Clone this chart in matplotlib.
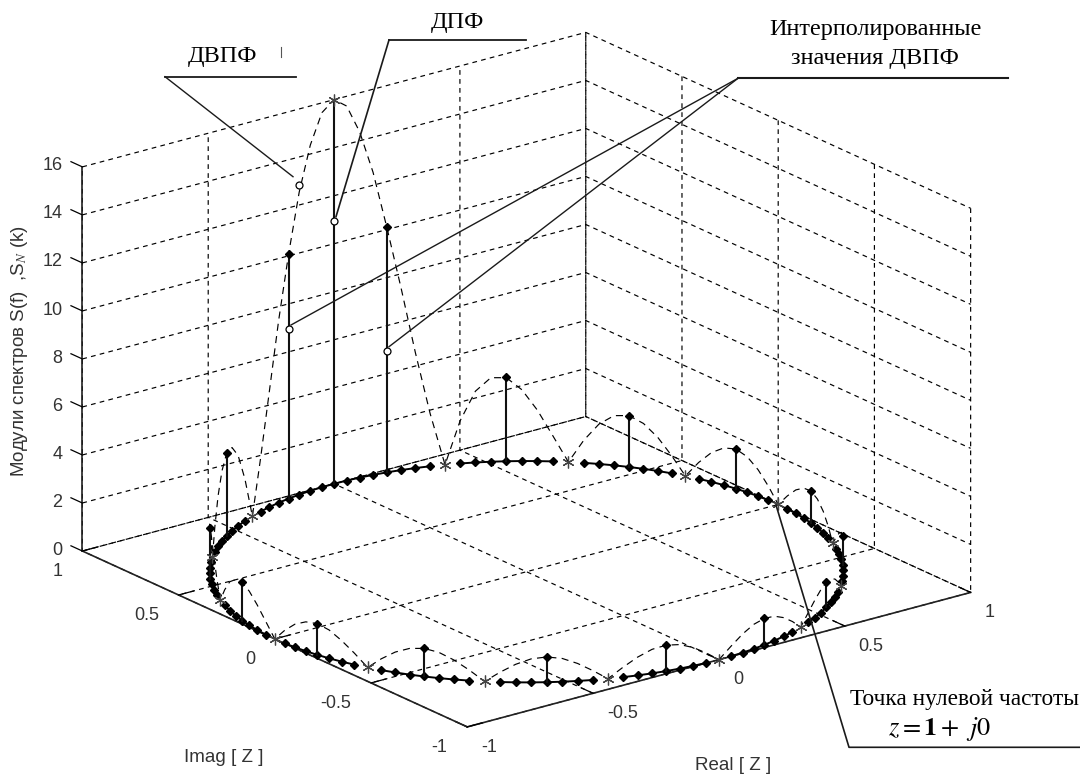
import numpy as np
import matplotlib
matplotlib.use("Agg")
import matplotlib.pyplot as plt
from mpl_toolkits.mplot3d import proj3d

# ---------- data ----------
peak_angle_deg = 90.0
sample_step_deg = 2.8125
# DTFT magnitude, walking from the peak in the direction of growing angle
dtft_ccw = [16, 15.6, 14.4, 12.6, 10.2, 7.6, 4.8, 2.2, 0,
            1.75, 2.93, 3.47, 3.45, 2.93, 2.1, 1.05, 0,
            .93, 1.65, 2.05, 2.13, 1.88, 1.4, .72, 0,
            .65, 1.2, 1.5, 1.59, 1.42, 1.05, .55, 0,
            .53, .96, 1.22, 1.3, 1.18, .88, .48, 0,
            .47, .85, 1.09, 1.17, 1.07, .81, .44, 0,
            .41, .75, .98, 1.05, .97, .73, .39, 0,
            .41, .76, 1.0, 1.08, 1.0, .76, .41, 0]
# ... and in the direction of falling angle
dtft_cw = [16, 15.6, 14.4, 12.6, 10.2, 7.6, 4.8, 2.2, 0,
           1.78, 2.97, 3.5, 3.48, 2.97, 2.12, 1.06, 0,
           .94, 1.66, 2.07, 2.14, 1.89, 1.4, .73, 0,
           .68, 1.22, 1.55, 1.65, 1.48, 1.1, .58, 0,
           .54, .98, 1.25, 1.33, 1.2, .9, .48, 0,
           .48, .87, 1.12, 1.2, 1.1, .83, .45, 0,
           .41, .75, .97, 1.05, .96, .73, .39, 0,
           .43, .78, 1.02, 1.1, 1.02, .78, .42, 0]
stem_angles = [90, 101.25, 78.75, 123.75, 56.25, 146.25, 33.75, 168.75, 11.25,
               -168.75, -11.25, -146.25, -33.75, -123.75, -56.25, -101.25, -78.75]
stem_values = [16, 10.2, 10.2, 3.47, 3.5, 2.13, 2.14, 1.59, 1.65,
               1.3, 1.33, 1.17, 1.2, 1.05, 1.05, 1.08, 1.1]
zero_angles = [112.5, 135, 157.5, 180, 202.5, 225, 247.5, 270,
               67.5, 45, 22.5, 0, -22.5, -45, -67.5]
callout_angles = [98.44, 90, 101.25, 78.75]
callout_values = [12.9, 10.94, 7.05, 5.06]
re_ticks = [-1, -0.5, 0, 0.5, 1]
im_ticks = [-1, -0.5, 0, 0.5, 1]
z_ticks = [0, 2, 4, 6, 8, 10, 12, 14, 16]
re_tick_labels = ['-1', '-0.5', '0', '0.5', '1']
im_tick_labels = ['-1', '-0.5', '0', '0.5', '1']
z_tick_labels = ['0', '2', '4', '6', '8', '10', '12', '14', '16']

# ---------- style ----------
W, H = 1080, 775
plt.rcParams.update({
    'font.family': ['Liberation Sans', 'DejaVu Sans'],
    'font.size': 12,
    'grid.color': 'black', 'grid.linestyle': (0, (4.0, 3.6)), 'grid.linewidth': 0.85,
    'axes.linewidth': 1.0, 'mathtext.fontset': 'stix',
    'xtick.major.width': 0.9, 'ytick.major.width': 0.9,
})
TXT = '#333333'
fig = plt.figure(figsize=(W / 100, H / 100), dpi=100, facecolor='white')

# ---------- 3-D axes fitted to the reference box ----------
ax = fig.add_axes([0, 0, 1, 1], projection='3d', proj_type='ortho', computed_zorder=False)
ax.view_init(elev=20.45, azim=-127.4)
ax.set_xlim(-1, 1, view_margin=0)
ax.set_ylim(-1, 1, view_margin=0)
ax.set_zlim(0, 16, view_margin=0)
ax.set_box_aspect((316.7, 316.7, 204.9))
ax.patch.set_alpha(0)

M = ax.get_proj()
u0, v0, _ = proj3d.proj_transform(0, 0, 8, M)
u1, v1, _ = proj3d.proj_transform(1, 0, 8, M)
xl = ax.viewLim.intervalx
yl = ax.viewLim.intervaly
S = 251.7 * (xl[1] - xl[0]) / abs(u1 - u0)       # axes side in pixels
cx, cy_mid = 526.5, H - 571.65 + 192.0           # box centre on the page
left = cx - S * (u0 - xl[0]) / (xl[1] - xl[0])
bottom = cy_mid - S * (v0 - yl[0]) / (yl[1] - yl[0])
ax.set_position([left / W, bottom / H, S / W, S / H])

for axis in (ax.xaxis, ax.yaxis, ax.zaxis):
    axis.set_pane_color((1, 1, 1, 0))
    axis.pane.set_edgecolor((1, 1, 1, 0))
    axis.line.set_color('#222222')
    axis.line.set_linewidth(1.2)
    axis._axinfo['tick']['inward_factor'] = 0.0
    axis._axinfo['tick']['outward_factor'] = 0.37
ax.zaxis._get_tickdir = lambda pos: 1            # z ticks run along the Imag direction

ax.set_xticks(re_ticks, re_tick_labels, color=TXT, fontsize=13)
ax.set_yticks(im_ticks, im_tick_labels, color=TXT, fontsize=13)
ax.set_zticks(z_ticks, z_tick_labels, color=TXT, fontsize=13)
ax.tick_params(axis='x', pad=5)
ax.tick_params(axis='y', pad=6)
ax.tick_params(axis='z', pad=0)
for t in ax.get_xticklabels():
    t.set_ha('left'); t.set_va('center')
for t in ax.get_yticklabels():
    t.set_ha('right'); t.set_va('center')
for t in ax.get_zticklabels():
    t.set_ha('right'); t.set_va('center')

# ---------- marks ----------
ang_ccw = peak_angle_deg + sample_step_deg * np.arange(len(dtft_ccw))
ang_cw = peak_angle_deg - sample_step_deg * np.arange(len(dtft_cw))
ang = np.concatenate([ang_cw[::-1], ang_ccw[1:]])
mag = np.concatenate([np.array(dtft_cw[::-1], float), np.array(dtft_ccw[1:], float)])
rad = np.deg2rad(ang)
ring_on = mag > 0
ring_z = np.where(ring_on, 0.0, np.nan)
ax.plot(np.cos(rad), np.sin(rad), ring_z, color='black', lw=1.4, zorder=3)
ax.plot(np.cos(rad), np.sin(rad), mag, color='black', lw=0.85,
        ls=(0, (6, 4.5)), zorder=4)
ax.plot(np.cos(rad[ring_on]), np.sin(rad[ring_on]), np.zeros(ring_on.sum()),
        ls='none', marker='D', ms=3.6, color='black', zorder=5)

sa = np.deg2rad(stem_angles)
for a, v in zip(sa, stem_values):
    ax.plot([np.cos(a)] * 2, [np.sin(a)] * 2, [0, v], color='#111111', lw=1.5, zorder=6)
ax.plot(np.cos(sa[1:]), np.sin(sa[1:]), np.array(stem_values[1:]), ls='none', marker='D',
        ms=3.6, color='black', zorder=7)
za = np.deg2rad(zero_angles)
ax.plot(np.cos(za), np.sin(za), np.zeros_like(za), ls='none', marker=(6, 2, 0), ms=8.5,
        mew=0.9, color='#444444', zorder=8)
ax.plot([np.cos(sa[0])], [np.sin(sa[0])], [stem_values[0]], ls='none', marker=(6, 2, 0),
        ms=8.5, mew=0.9, color='#444444', zorder=8)
ca = np.deg2rad(callout_angles)
ax.plot(np.cos(ca), np.sin(ca), callout_values, ls='none', marker='o', ms=5,
        mfc='white', mec='black', mew=0.9, zorder=10)

# ---------- hand-drawn call-outs and axis titles in page pixels ----------
ov = fig.add_axes([0, 0, 1, 1], facecolor='none')
ov.set_xlim(0, W)
ov.set_ylim(H, 0)
ov.axis('off')
LW = 1.0
leader_color = '#1a1a1a'
ov.plot([296, 165], [76.7, 76.7], color=leader_color, lw=1.3)
ov.plot([165, 293], [76.7, 176.7], color=leader_color, lw=LW)
ov.plot([526, 389], [40, 40], color=leader_color, lw=1.3)
ov.plot([389, 336], [40, 216.7], color=leader_color, lw=LW + .2)
ov.plot([1008, 738], [78.3, 78.3], color=leader_color, lw=1.5)
ov.plot([738, 291], [78.3, 325], color=leader_color, lw=LW)
ov.plot([738, 389], [78.3, 346.7], color=leader_color, lw=LW)
ov.plot([776, 849, 1080], [505, 747.3, 747.3], color=leader_color, lw=1.2)
ov.plot([280.6, 280.6], [47, 57], color='#555555', lw=0.8)
SER = ['Liberation Serif', 'DejaVu Serif']
ov.text(222, 56.7, 'ДВПФ', family=SER, fontsize=17.5, ha='center', va='center', color='black')
ov.text(457, 22.7, 'ДПФ', family=SER, fontsize=17.5, ha='center', va='center', color='black')
ov.text(875, 29.3, 'Интерполированные', family=SER, fontsize=17.5, ha='center', va='center', color='black')
ov.text(875, 58.3, 'значения ДВПФ', family=SER, fontsize=17.5, ha='center', va='center', color='black')
ov.text(850, 699.3, 'Точка нулевой частоты', family=SER, fontsize=16.8, ha='left', va='center', color='black')
ov.text(888, 729, r'$z=\mathbf{1}+\ j0$', fontsize=19, ha='left', va='center', color='black')
ov.text(224, 757, 'Imag [ Z ]', fontsize=13.5, ha='center', va='center', color=TXT)
ov.text(733, 766, 'Real [ Z ]', fontsize=13.5, ha='center', va='center', color=TXT)
ov.text(20, 351, 'Модули спектров S(f)  ,S$_{\\mathit{N}}$ (k)', fontsize=13.5, rotation=90,
        ha='center', va='center', color=TXT)

fig.savefig('out.png', dpi=100)
